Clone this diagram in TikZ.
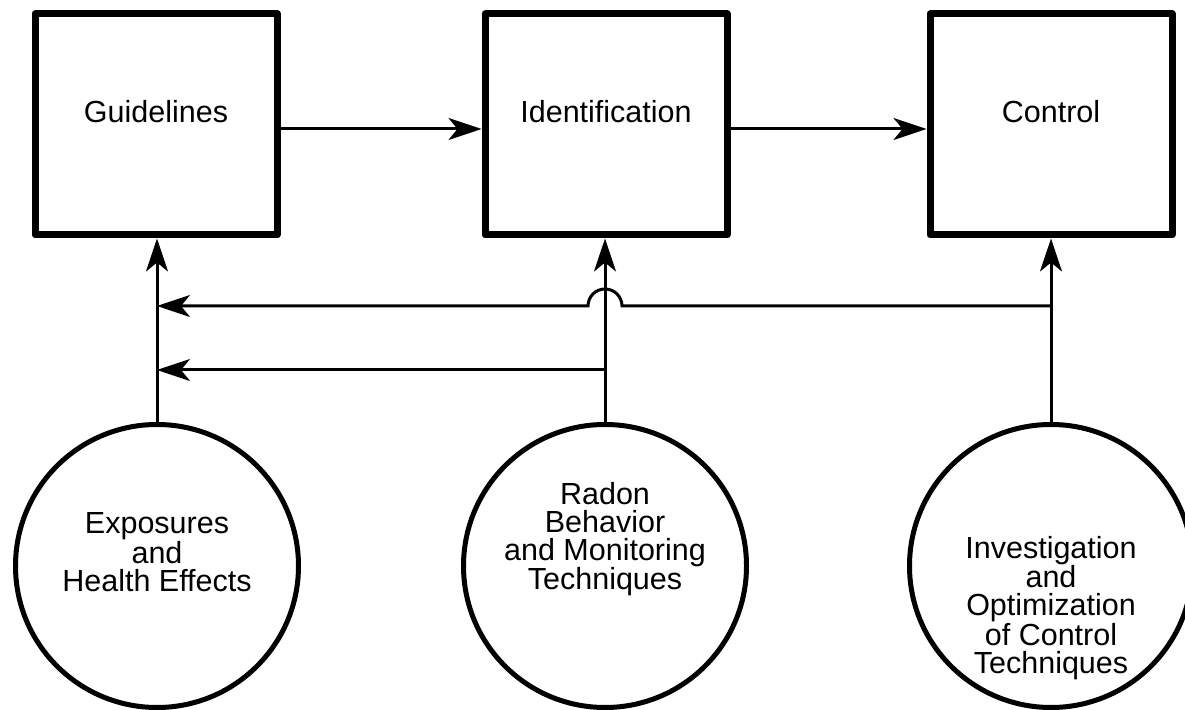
\documentclass[tikz,border=0pt]{standalone}
\usepackage{fontspec}
\setmainfont{Liberation Sans}
\usetikzlibrary{arrows.meta}
\begin{document}
\begin{tikzpicture}[x=1pt,y=1pt,
  boxnode/.style={draw,line width=7pt,line join=round,minimum width=242pt,minimum height=221pt,inner sep=0pt},
  circnode/.style={draw,circle,line width=5pt,minimum size=283pt,inner sep=0pt},
  lbl/.style={font=\fontsize{30.5}{28}\selectfont,align=center,inner sep=0pt},
  conn/.style={line width=3pt},
  arr/.style={conn,-{Stealth[length=33pt,width=22pt,inset=9pt]}}]
\useasboundingbox (0,0) rectangle (1185,709);
% boxes
\node[boxnode] (gl) at (156,584.5) {};
\node[boxnode] (id) at (606,584.5) {};
\node[boxnode] (ct) at (1051,584.5) {};
\node[lbl] (tgl) at ([yshift=12.5pt]gl.center) {Guidelines};
\node[lbl] (tid) at ([yshift=12.5pt]id.center) {Identification};
\node[lbl] (tct) at ([yshift=12.5pt]ct.center) {Control};
% circles
\node[circnode] (c1) at (157,143) {};
\node[circnode] (c2) at (605,143) {};
\node[circnode] (c3) at (1051,143) {};
\node[lbl] (t1) at ([yshift=14pt]c1.center) {Exposures\\and\\Health Effects};
\node[lbl] (t2) at ([yshift=27pt]c2.center) {Radon\\Behavior\\and Monitoring\\Techniques};
\node[lbl] (t3) at ([yshift=-42pt]c3.center) {Investigation\\and\\Optimization\\of Control\\Techniques};
% main flow
\draw[arr] ([yshift=-4.5pt]gl.east) -- ([yshift=-4.5pt]id.west);
\draw[arr] ([yshift=-4.5pt]id.east) -- ([yshift=-4.5pt]ct.west);
% verticals
\draw[arr] (c1.north) -- (c1.north |- gl.south);
\draw[arr] (c2.north) -- (c2.north |- id.south);
\draw[arr] (c3.north) -- (c3.north |- ct.south);
% feedback lines
\coordinate (yup) at (0,403);
\coordinate (ylo) at (0,339);
\coordinate (hopR) at ([xshift=17pt]c2.north |- yup);
\draw[arr] (c3.north |- yup) -- (hopR) arc[start angle=0,end angle=180,radius=17pt] -- (c1.north |- yup);
\draw[arr] (c2.north |- ylo) -- (c1.north |- ylo);
\end{tikzpicture}
\end{document}
